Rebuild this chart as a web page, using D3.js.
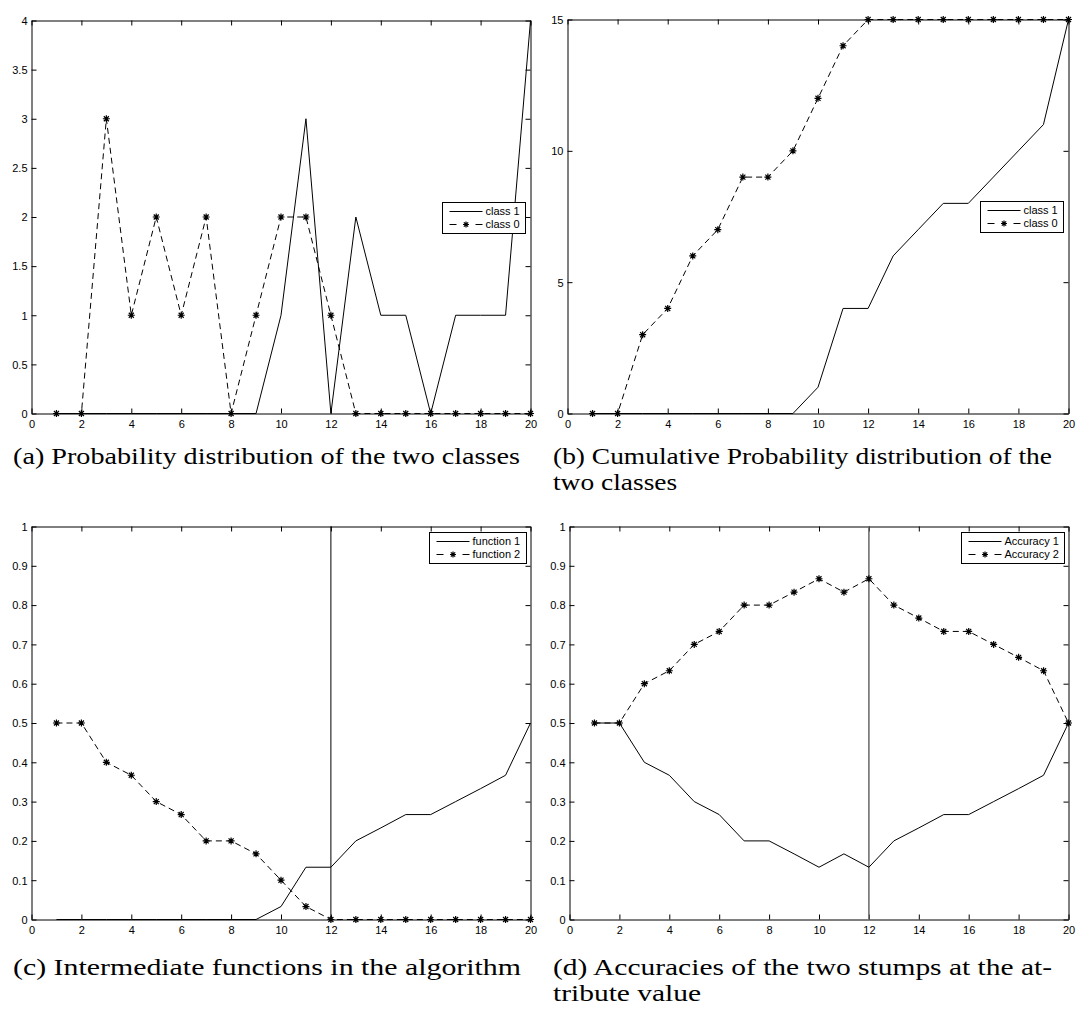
<!DOCTYPE html>
<html>
<head>
<meta charset="utf-8">
<script src="https://cdn.jsdelivr.net/npm/d3@7"></script>
<style>
  body { margin: 0; background: #fff; }
  svg { display: block; }
  .tick text, .leyenda text { font-family: 'Liberation Sans', Arial, sans-serif; font-size: 11px; fill: #000; }
  .caption { font-family: 'Liberation Serif', 'Times New Roman', serif; font-size: 23px; fill: #000; }
</style>
</head>
<body>
<div id="graf"></div>
<script>
// valor del atributo
const attr = [1, 2, 3, 4, 5, 6, 7, 8, 9, 10, 11, 12, 13, 14, 15, 16, 17, 18, 19, 20]

// (a) distribucion
const class1 = [0, 0, 0, 0, 0, 0, 0, 0, 0, 1, 3, 0, 2, 1, 1, 0, 1, 1, 1, 4]
const class0 = [0, 0, 3, 1, 2, 1, 2, 0, 1, 2, 2, 1, 0, 0, 0, 0, 0, 0, 0, 0]

// (b) acumulada
const cum1 = [0, 0, 0, 0, 0, 0, 0, 0, 0, 1, 4, 4, 6, 7, 8, 8, 9, 10, 11, 15]
const cum0 = [0, 0, 3, 4, 6, 7, 9, 9, 10, 12, 14, 15, 15, 15, 15, 15, 15, 15, 15, 15]

// (c) funciones intermedias
const func1 = [0, 0, 0, 0, 0, 0, 0, 0, 0, 0.033, 0.133, 0.133, 0.2, 0.233, 0.267, 0.267, 0.3, 0.333, 0.367, 0.5]
const func2 = [0.5, 0.5, 0.4, 0.367, 0.3, 0.267, 0.2, 0.2, 0.167, 0.1, 0.033, 0, 0, 0, 0, 0, 0, 0, 0, 0]

// (d) precision
const acc1 = [0.5, 0.5, 0.4, 0.367, 0.3, 0.267, 0.2, 0.2, 0.167, 0.133, 0.167, 0.133, 0.2, 0.233, 0.267, 0.267, 0.3, 0.333, 0.367, 0.5]
const acc2 = [0.5, 0.5, 0.6, 0.633, 0.7, 0.733, 0.8, 0.8, 0.833, 0.867, 0.833, 0.867, 0.8, 0.767, 0.733, 0.733, 0.7, 0.667, 0.633, 0.5]

const split = 12

const xTicks = [0, 2, 4, 6, 8, 10, 12, 14, 16, 18, 20]
const yTicksA = [0, 0.5, 1, 1.5, 2, 2.5, 3, 3.5, 4]
const yTicksB = [0, 5, 10, 15]
const yTicksC = [0, 0.1, 0.2, 0.3, 0.4, 0.5, 0.6, 0.7, 0.8, 0.9, 1]

const svg = d3.select('#graf').append('svg')
    .attr('width', 1084)
    .attr('height', 1010)

const paneles = [
    { x0: 31.5, x1: 530.5, y0: 20.5, y1: 413.5, yDom: [0, 4], yTicks: yTicksA,
      s1: class1, s2: class0, n1: 'class 1', n2: 'class 0', leg: 'east', corte: false,
      cap: ['(a) Probability distribution of the two classes'], cx: 13, cy: 464, cw: 507 },
    { x0: 567.5, x1: 1068.5, y0: 19.5, y1: 413.5, yDom: [0, 15], yTicks: yTicksB,
      s1: cum1, s2: cum0, n1: 'class 1', n2: 'class 0', leg: 'east', corte: false,
      cap: ['(b) Cumulative Probability distribution of the', 'two classes'], cx: 553, cy: 464, cw: 499 },
    { x0: 31.5, x1: 530.5, y0: 526.5, y1: 919.5, yDom: [0, 1], yTicks: yTicksC,
      s1: func1, s2: func2, n1: 'function 1', n2: 'function 2', leg: 'ne', corte: '#000',
      cap: ['(c) Intermediate functions in the algorithm'], cx: 13, cy: 975, cw: 508 },
    { x0: 569.5, x1: 1068.5, y0: 526.5, y1: 919.5, yDom: [0, 1], yTicks: yTicksC,
      s1: acc1, s2: acc2, n1: 'Accuracy 1', n2: 'Accuracy 2', leg: 'ne', corte: '#666',
      cap: ['(d) Accuracies of the two stumps at the at-', 'tribute value'], cx: 553, cy: 975, cw: 499 },
]

const estrella = r => {
    const k = r * 0.72
    return `M${-r},0L${r},0M0,${-r}L0,${r}M${-k},${-k}L${k},${k}M${-k},${k}L${k},${-k}`
}

const dibujar = p => {
    const x = d3.scaleLinear().domain([0, 20]).range([p.x0, p.x1])
    const y = d3.scaleLinear().domain(p.yDom).range([p.y1, p.y0])
    const g = svg.append('g')

    // ejes estilo matlab, marcas hacia adentro
    g.append('g').attr('transform', `translate(0,${p.y1})`)
        .call(d3.axisBottom(x).tickValues(xTicks).tickFormat(d3.format('d'))
            .tickSizeInner(-5).tickSizeOuter(0).tickPadding(7))
    g.append('g').attr('transform', `translate(0,${p.y0})`)
        .call(d3.axisTop(x).tickValues(xTicks).tickFormat('')
            .tickSizeInner(-5).tickSizeOuter(0))
    g.append('g').attr('class', 'ejeY').attr('transform', `translate(${p.x0},0)`)
        .call(d3.axisLeft(y).tickValues(p.yTicks).tickFormat(d => d3.format('')(+d.toFixed(2)))
            .tickSizeInner(-5).tickSizeOuter(0).tickPadding(4))
    g.append('g').attr('transform', `translate(${p.x1},0)`)
        .call(d3.axisRight(y).tickValues(p.yTicks).tickFormat('')
            .tickSizeInner(-5).tickSizeOuter(0))
    g.selectAll('.ejeY .tick text').attr('dy', '0.35em')
    g.selectAll('.domain, .tick line').attr('stroke', '#000')

    if (p.corte) {
        g.append('line')
            .attr('x1', x(split)).attr('x2', x(split))
            .attr('y1', p.y0).attr('y2', p.y1)
            .attr('stroke', p.corte)
            .attr('stroke-width', p.corte === '#000' ? 1 : 1.5)
    }

    const linea = d3.line().x((d, i) => x(attr[i])).y(d => y(d))

    g.append('path').datum(p.s1)
        .attr('d', linea)
        .attr('fill', 'none').attr('stroke', '#000').attr('stroke-width', 1)

    g.append('path').datum(p.s2)
        .attr('d', linea)
        .attr('fill', 'none').attr('stroke', '#000').attr('stroke-width', 1)
        .attr('stroke-dasharray', '6,4')

    g.selectAll('.marca').data(p.s2).enter()
        .append('path')
        .attr('class', 'marca')
        .attr('transform', (d, i) => `translate(${x(attr[i])},${y(d)})`)
        .attr('d', estrella(3.5))
        .attr('stroke', '#000').attr('stroke-width', 1.2)

    // leyenda
    const leg = g.append('g').attr('class', 'leyenda')
    const caja = leg.append('rect').attr('fill', '#fff').attr('stroke', '#000').attr('stroke-width', 1)
    const t1 = leg.append('text').text(p.n1)
    const t2 = leg.append('text').text(p.n2)
    const tw = Math.max(t1.node().getComputedTextLength(), t2.node().getComputedTextLength())
    const w = Math.round(43 + tw + 6)
    const h = 31
    const lx = Math.round(p.x1 - (p.leg === 'east' ? 6 : 5) - w) + 0.5
    const ly = Math.round(p.leg === 'east' ? (p.y0 + p.y1) / 2 - h / 2 : p.y0 + 5) + 0.5
    caja.attr('x', lx).attr('y', ly).attr('width', w).attr('height', h)
    t1.attr('x', lx + 43).attr('y', ly + 9).attr('dy', '0.35em')
    t2.attr('x', lx + 43).attr('y', ly + 22).attr('dy', '0.35em')
    leg.append('line').attr('x1', lx + 7).attr('x2', lx + 40)
        .attr('y1', ly + 9).attr('y2', ly + 9).attr('stroke', '#000')
    ;[[7, 14], [33, 40]].forEach(([a, b]) => {
        leg.append('line').attr('x1', lx + a).attr('x2', lx + b)
            .attr('y1', ly + 22).attr('y2', ly + 22).attr('stroke', '#000')
    })
    leg.append('path').attr('transform', `translate(${lx + 23.5},${ly + 22})`)
        .attr('d', estrella(3)).attr('stroke', '#000').attr('stroke-width', 1.2)

    // titulo del panel, ensanchado como la fuente del original
    let factor = 1
    p.cap.forEach((c, i) => {
        const t = svg.append('text').attr('class', 'caption')
            .attr('x', p.cx).attr('y', p.cy + i * 26).text(c)
        const nat = t.node().getComputedTextLength()
        if (i === 0) factor = p.cw / nat
        t.attr('textLength', nat * factor).attr('lengthAdjust', 'spacingAndGlyphs')
    })
}

paneles.forEach(dibujar)
</script>
</body>
</html>
